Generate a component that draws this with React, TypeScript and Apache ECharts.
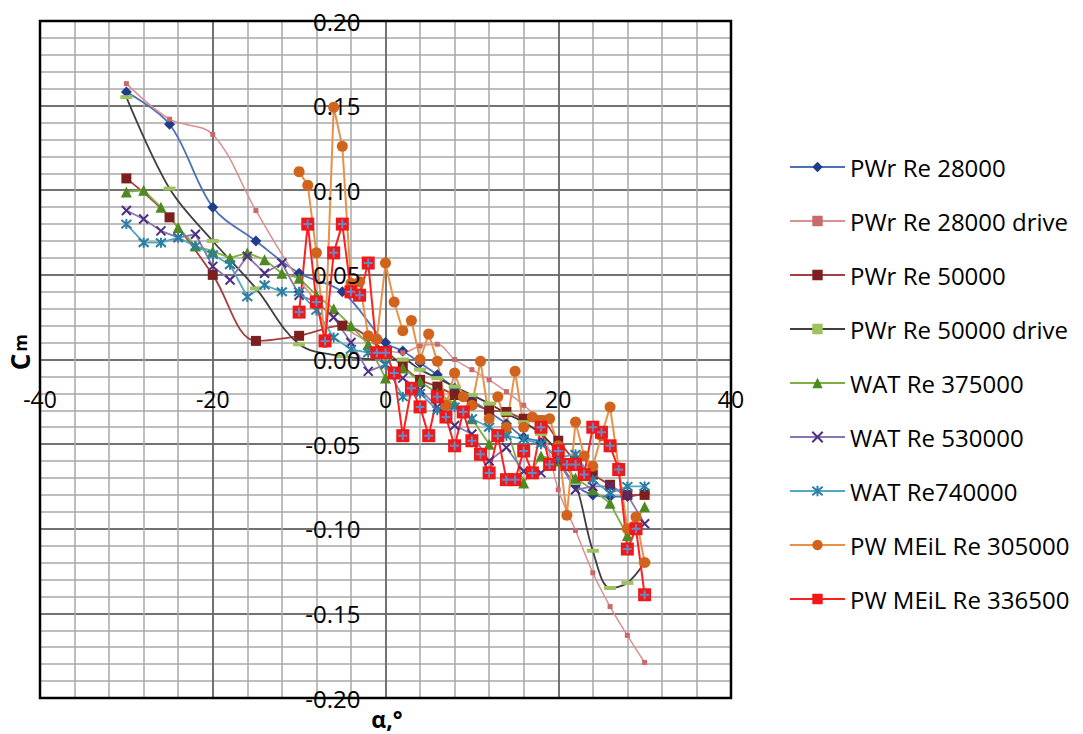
import React, { useEffect, useRef } from "react";
import * as echarts from "echarts";

// angle of attack grids
const alphaPWr = [-30, -25, -20, -15, -10, -5, 0, 2, 4, 6, 8, 10, 12, 14, 16, 18, 20, 22, 24, 26, 28, 30];
const alphaWAT = [-30, -28, -26, -24, -22, -20, -18, -16, -14, -12, -10, -8, -6, -4, -2, 0, 2, 4, 6, 8, 10, 12, 14, 16, 18, 20, 22, 24, 26, 28, 30];
const alphaMEiL = [-10, -9, -8, -7, -6, -5, -4, -3, -2, -1, 0, 1, 2, 3, 4, 5, 6, 7, 8, 9, 10, 11, 12, 13, 14, 15, 16, 17, 18, 19, 20, 21, 22, 23, 24, 25, 26, 27, 28, 29, 30];

// Cm values
const pwr28000 = [0.158, 0.139, 0.090, 0.070, 0.051, 0.040, 0.010, 0.005, -0.002, -0.009, -0.017, -0.024, -0.031, -0.038, -0.046, -0.049, -0.060, -0.074, -0.080, -0.081, -0.081, -0.079];
const pwr28000drive = [0.163, 0.142, 0.133, 0.088, 0.047, 0.020, 0.006, 0.004, 0.008, 0.009, 0.000, -0.006, -0.012, -0.019, -0.027, -0.038, -0.077, -0.101, -0.126, -0.146, -0.163, -0.179];
const pwr50000 = [0.107, 0.084, 0.050, 0.011, 0.014, 0.020, 0.005, -0.004, -0.012, -0.016, -0.021, -0.026, -0.030, -0.031, -0.035, -0.036, -0.048, -0.060, -0.068, -0.074, -0.080, -0.080];
const pwr50000drive = [0.155, 0.101, 0.070, 0.042, 0.009, 0.002, 0.000, 0.000, -0.006, -0.011, -0.016, -0.021, -0.026, -0.032, -0.037, -0.044, -0.055, -0.073, -0.113, -0.135, -0.132, -0.120];
const wat375000 = [0.099, 0.100, 0.090, 0.078, 0.067, 0.064, 0.060, 0.063, 0.059, 0.051, 0.048, 0.038, 0.030, 0.020, 0.009, -0.011, -0.005, -0.013, -0.020, -0.026, -0.035, -0.050, -0.040, -0.073, -0.057, -0.060, -0.070, -0.077, -0.085, -0.104, -0.087];
const wat530000 = [0.088, 0.083, 0.076, 0.072, 0.074, 0.055, 0.047, 0.061, 0.051, 0.057, 0.038, 0.034, 0.025, 0.010, -0.007, -0.003, -0.011, -0.018, -0.028, -0.039, -0.044, -0.060, -0.052, -0.066, -0.067, -0.060, -0.077, -0.075, -0.075, -0.080, -0.097];
const wat740000 = [0.080, 0.069, 0.069, 0.072, 0.067, 0.062, 0.056, 0.037, 0.044, 0.040, 0.040, 0.029, 0.013, 0.006, 0.004, -0.003, -0.022, -0.020, -0.030, -0.028, -0.035, -0.040, -0.045, -0.047, -0.050, -0.058, -0.056, -0.071, -0.079, -0.075, -0.075];
const meil305000 = [0.111, 0.103, 0.063, 0.010, 0.149, 0.126, 0.045, 0.046, 0.014, 0.012, 0.057, 0.034, 0.017, 0.023, 0.000, 0.015, -0.001, -0.027, -0.008, -0.022, -0.027, -0.001, -0.035, -0.022, -0.040, -0.007, -0.040, -0.034, -0.036, -0.035, -0.051, -0.092, -0.037, -0.057, -0.063, -0.045, -0.028, -0.064, -0.100, -0.093, -0.120];
const meil336500 = [0.028, 0.080, 0.034, 0.011, 0.063, 0.080, 0.040, 0.038, 0.057, 0.004, 0.004, -0.008, -0.045, -0.017, -0.028, -0.045, -0.022, -0.034, -0.051, -0.031, -0.048, -0.056, -0.067, -0.045, -0.071, -0.071, -0.054, -0.067, -0.040, -0.062, -0.054, -0.062, -0.062, -0.068, -0.040, -0.043, -0.051, -0.065, -0.112, -0.100, -0.139];

const seriesNames = [
  "PWr Re 28000",
  "PWr Re 28000 drive",
  "PWr Re 50000",
  "PWr Re 50000 drive",
  "WAT Re 375000",
  "WAT Re 530000",
  "WAT Re740000",
  "PW MEiL Re 305000",
  "PW MEiL Re 336500",
];

const xMin = -40;
const xMax = 40;
const yMin = -0.2;
const yMax = 0.2;
const xTicksMajor = 20;
const xTicksMinor = 4;
const yTicksMajor = 0.05;
const yTicksMinor = 0.01;

const pairs = (xs: number[], ys: number[]) => xs.map((x, i) => [x, ys[i]]);

const FONT = "Open Sans";
const X_PATH = "path://M0,0L10,10M10,0L0,10";
const STAR_PATH = "path://M0,0L10,10M10,0L0,10M5,-1L5,11";
const PLUS_PATH = "path://M5,0L5,10M0,5L10,5";

// plot area
const GL = 40;
const GT = 21;
const GW = 691;
const GH = 677;

export default function App() {
  const ref = useRef<HTMLDivElement>(null);

  useEffect(() => {
    const chart = echarts.init(ref.current as HTMLDivElement, null, { renderer: "svg" });

    const minorSplit = { show: true, lineStyle: { color: "#a8a8a8", width: 1.5 } };
    const majorSplit = { show: true, lineStyle: { color: "#5a5a5a", width: 1.5 } };
    const hidden = {
      axisLine: { show: false, onZero: false },
      axisTick: { show: false },
      axisLabel: { show: false },
    };

    // offsets that bring the labelled axes onto the zero lines
    const zeroY = GT + (GH * yMax) / (yMax - yMin);
    const zeroX = GL + (GW * (0 - xMin)) / (xMax - xMin);
    const xOffset = -(GT + GH - zeroY);
    const yOffset = -(zeroX - GL);

    const line = (name: string, xs: number[], ys: number[], extra: any) => ({
      type: "line",
      name,
      data: pairs(xs, ys),
      xAxisIndex: 0,
      yAxisIndex: 0,
      showSymbol: true,
      ...extra,
    });

    const option: any = {
      animation: false,
      backgroundColor: "#ffffff",
      grid: { left: GL, top: GT, width: GW, height: GH, show: false, containLabel: false, outerBoundsMode: "none" },
      xAxis: [
        { type: "value", min: xMin, max: xMax, interval: xTicksMinor, position: "bottom", splitLine: minorSplit, ...hidden },
        { type: "value", min: xMin, max: xMax, interval: xTicksMajor, position: "bottom", splitLine: majorSplit, ...hidden },
        {
          type: "value",
          min: xMin,
          max: xMax,
          interval: xTicksMajor,
          position: "bottom",
          offset: xOffset,
          z: 10,
          splitLine: { show: false },
          axisLine: { show: false, onZero: false },
          axisTick: { show: false },
          axisLabel: { show: true, margin: 28, fontSize: 23, fontFamily: FONT, color: "#000" },
        },
      ],
      yAxis: [
        { type: "value", min: yMin, max: yMax, interval: yTicksMinor, position: "left", splitLine: minorSplit, ...hidden },
        { type: "value", min: yMin, max: yMax, interval: yTicksMajor, position: "left", splitLine: majorSplit, ...hidden },
        {
          type: "value",
          min: yMin,
          max: yMax,
          interval: yTicksMajor,
          position: "left",
          offset: yOffset,
          z: 10,
          splitLine: { show: false },
          axisLine: { show: false, onZero: false },
          axisTick: { show: false },
          axisLabel: {
            show: true,
            margin: 25,
            fontSize: 24,
            fontFamily: FONT,
            color: "#000",
            formatter: (v: number) => (Math.abs(v) < 1e-9 ? 0 : v).toFixed(2),
          },
        },
      ],
      legend: {
        orient: "vertical",
        left: 789,
        top: 152,
        padding: 0,
        itemWidth: 55,
        itemHeight: 13,
        itemGap: 24,
        data: seriesNames,
        textStyle: { fontFamily: FONT, fontSize: 24, color: "#000", lineHeight: 30 },
      },
      graphic: [
        {
          type: "rect",
          z: 50,
          silent: true,
          shape: { x: GL, y: GT, width: GW, height: GH },
          style: { fill: "none", stroke: "#000", lineWidth: 2.5 },
        },
        {
          type: "text",
          x: 20,
          y: 362,
          rotation: Math.PI / 2,
          style: { text: "C", fontFamily: FONT, fontWeight: "bold", fontSize: 26, fill: "#000", textAlign: "center", textVerticalAlign: "middle" },
        },
        {
          type: "text",
          x: 20,
          y: 343,
          rotation: Math.PI / 2,
          style: { text: "m", fontFamily: FONT, fontWeight: "bold", fontSize: 18, fill: "#000", textAlign: "center", textVerticalAlign: "middle" },
        },
        {
          type: "text",
          x: 387,
          y: 719,
          style: { text: "α,°", fontFamily: FONT, fontWeight: "bold", fontSize: 23, fill: "#000", textAlign: "center", textVerticalAlign: "middle" },
        },
      ],
      series: [
        line(seriesNames[0], alphaPWr, pwr28000, {
          smooth: 0.35,
          lineStyle: { color: "#4a72b8", width: 1.8 },
          symbol: "diamond",
          symbolSize: 11,
          itemStyle: { color: "#1f3d8a" },
        }),
        line(seriesNames[1], alphaPWr, pwr28000drive, {
          smooth: 0.35,
          lineStyle: { color: "#dc8f8f", width: 1.5 },
          symbol: "rect",
          symbolSize: 5,
          itemStyle: { color: "#c96a6a" },
        }),
        line(seriesNames[2], alphaPWr, pwr50000, {
          smooth: 0.35,
          lineStyle: { color: "#a3403f", width: 1.8 },
          symbol: "rect",
          symbolSize: 10,
          itemStyle: { color: "#7d1f1f" },
        }),
        line(seriesNames[3], alphaPWr, pwr50000drive, {
          smooth: 0.35,
          lineStyle: { color: "#3f3f3f", width: 1.8 },
          symbol: "rect",
          symbolSize: [12, 4],
          itemStyle: { color: "#9cc35e" },
        }),
        line(seriesNames[4], alphaWAT, wat375000, {
          lineStyle: { color: "#7fae44", width: 1.8 },
          symbol: "triangle",
          symbolSize: 11,
          itemStyle: { color: "#4e8a1f" },
        }),
        line(seriesNames[5], alphaWAT, wat530000, {
          lineStyle: { color: "#8c74b4", width: 1.8 },
          symbol: X_PATH,
          symbolSize: 9,
          itemStyle: { color: "#4c2f82", borderColor: "#4c2f82", borderWidth: 2 },
        }),
        line(seriesNames[6], alphaWAT, wat740000, {
          lineStyle: { color: "#4fa7c2", width: 1.8 },
          symbol: STAR_PATH,
          symbolSize: 10,
          itemStyle: { color: "#2b7fa3", borderColor: "#2b7fa3", borderWidth: 2 },
        }),
        line(seriesNames[7], alphaMEiL, meil305000, {
          lineStyle: { color: "#e8914a", width: 2 },
          symbol: "circle",
          symbolSize: 11,
          itemStyle: { color: "#d2631c" },
        }),
        line(seriesNames[8], alphaMEiL, meil336500, {
          lineStyle: { color: "#ff1f1f", width: 2 },
          symbol: "rect",
          symbolSize: 13,
          itemStyle: { color: "#f01818" },
        }),
        {
          type: "scatter",
          name: "PW MEiL Re 336500 marker",
          data: pairs(alphaMEiL, meil336500),
          xAxisIndex: 0,
          yAxisIndex: 0,
          z: 3,
          symbol: PLUS_PATH,
          symbolSize: 9,
          itemStyle: { color: "#6f86c0", borderColor: "#6f86c0", borderWidth: 2, opacity: 1 },
          silent: true,
        },
      ],
    };

    chart.setOption(option);
    return () => chart.dispose();
  }, []);

  return (
    <div
      ref={ref}
      style={{ position: "absolute", left: 0, top: 0, width: 1083, height: 734, background: "#ffffff" }}
    />
  );
}
